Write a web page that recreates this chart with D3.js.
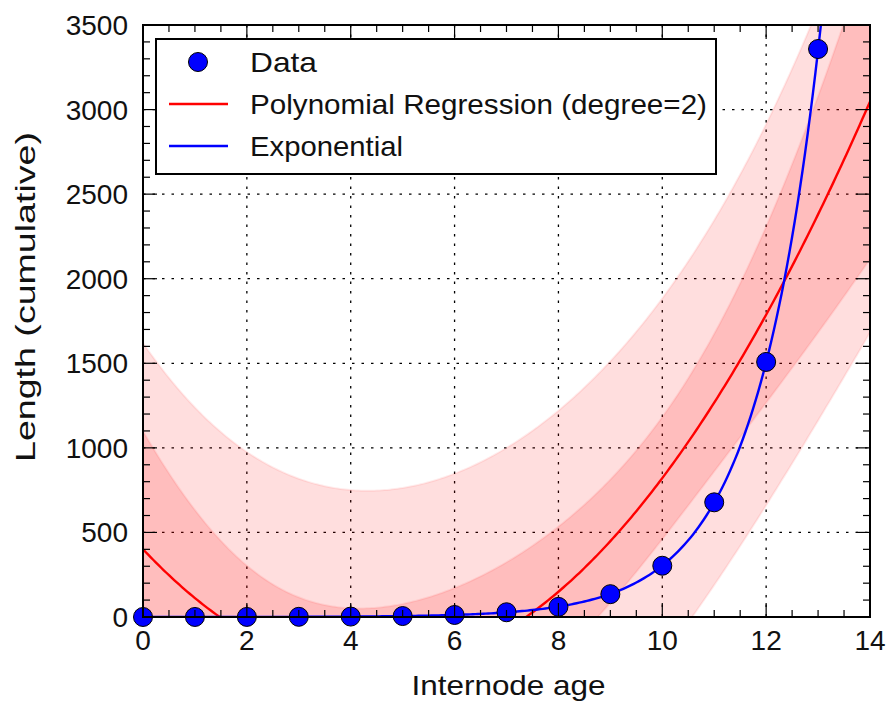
<!DOCTYPE html>
<html>
<head>
<meta charset="utf-8">
<script src="https://cdn.jsdelivr.net/npm/d3@7"></script>
<style>
  body { margin: 0; background: #fff; }
  text { font-family: "Liberation Sans", Arial, sans-serif; fill: #111; }
</style>
</head>
<body>
<svg id="chart" width="888" height="702"></svg>
<script>
// data
const ages = [0, 1, 2, 3, 4, 5, 6, 7, 8, 9, 10, 11, 12, 13];
const lengths = [0.1, 0.2, 0.5, 1.1, 2.5, 5.6, 12, 28, 60, 135, 303, 678, 1508, 3358];
const xTicks = [0, 2, 4, 6, 8, 10, 12, 14];
const yTicks = [0, 500, 1000, 1500, 2000, 2500, 3000, 3500];
const legendLabels = ["Data", "Polynomial Regression (degree=2)", "Exponential"];

// exponential fit y = a * exp(b * x), estimated from the plotted curve
const expA = 0.102, expB = 0.80;
const tCrit = 2.201; // t(0.975, df = 11)

const margin = { left: 143, top: 25, right: 18, bottom: 85 };
const width = 888 - margin.left - margin.right;
const height = 702 - margin.top - margin.bottom;

const svg = d3.select("#chart");
const g = svg.append("g").attr("transform", `translate(${margin.left},${margin.top})`);

const x = d3.scaleLinear().domain([0, 14]).range([0, width]);
const y = d3.scaleLinear().domain([0, 3500]).range([height, 0]);

// quadratic least squares fit, with confidence and prediction bands
function quadFit(xs, ys) {
  const n = xs.length;
  const X = xs.map(v => [1, v, v * v]);
  const XtX = [[0,0,0],[0,0,0],[0,0,0]], Xty = [0,0,0];
  for (let i = 0; i < n; i++) {
    for (let a = 0; a < 3; a++) {
      Xty[a] += X[i][a] * ys[i];
      for (let b = 0; b < 3; b++) XtX[a][b] += X[i][a] * X[i][b];
    }
  }
  const inv = invert3(XtX);
  const beta = [0,1,2].map(a => d3.sum([0,1,2], b => inv[a][b] * Xty[b]));
  const pred = v => beta[0] + beta[1] * v + beta[2] * v * v;
  const sse = d3.sum(xs, (v, i) => (ys[i] - pred(v)) ** 2);
  const s = Math.sqrt(sse / (n - 3));
  const lev = v => {
    const r = [1, v, v * v];
    let h = 0;
    for (let a = 0; a < 3; a++) for (let b = 0; b < 3; b++) h += r[a] * inv[a][b] * r[b];
    return h;
  };
  return { pred, s, lev };
}

function invert3(m) {
  const [a, b, c] = m[0], [d, e, f] = m[1], [gg, h, k] = m[2];
  const A = e * k - f * h, B = -(d * k - f * gg), C = d * h - e * gg;
  const det = a * A + b * B + c * C;
  return [
    [A / det, -(b * k - c * h) / det, (b * f - c * e) / det],
    [B / det, (a * k - c * gg) / det, -(a * f - c * d) / det],
    [C / det, -(a * h - b * gg) / det, (a * e - b * d) / det]
  ];
}

const fit = quadFit(ages, lengths);
const xs = d3.range(0, 14.001, 0.05);
const curve = xs.map(v => {
  const yh = fit.pred(v), h = fit.lev(v);
  return {
    x: v, yh,
    ciLo: yh - tCrit * fit.s * Math.sqrt(h), ciHi: yh + tCrit * fit.s * Math.sqrt(h),
    piLo: yh - tCrit * fit.s * Math.sqrt(1 + h), piHi: yh + tCrit * fit.s * Math.sqrt(1 + h),
    ex: expA * Math.exp(expB * v)
  };
});

svg.append("defs").append("clipPath").attr("id", "clip")
  .append("rect").attr("width", width).attr("height", height);

// grid
const grid = g.append("g");
xTicks.slice(1, -1).forEach(t => grid.append("line")
  .attr("x1", x(t)).attr("x2", x(t)).attr("y1", 0).attr("y2", height));
yTicks.slice(1, -1).forEach(t => grid.append("line")
  .attr("x1", 0).attr("x2", width).attr("y1", y(t)).attr("y2", y(t)));
grid.selectAll("line").attr("stroke", "#000").attr("stroke-width", 1.3)
  .attr("stroke-dasharray", "2.5,7");

const plot = g.append("g").attr("clip-path", "url(#clip)");

const band = (lo, hi) => d3.area().x(d => x(d.x)).y0(d => y(d[lo])).y1(d => y(d[hi]));
plot.append("path").datum(curve).attr("d", band("piLo", "piHi"))
  .attr("fill", "#ff0000").attr("fill-opacity", 0.13)
  .attr("stroke", "#ff0000").attr("stroke-opacity", 0.08).attr("stroke-width", 2);
plot.append("path").datum(curve).attr("d", band("ciLo", "ciHi"))
  .attr("fill", "#ff0000").attr("fill-opacity", 0.15)
  .attr("stroke", "#ff0000").attr("stroke-opacity", 0.08).attr("stroke-width", 2);

plot.append("path").datum(curve)
  .attr("d", d3.line().x(d => x(d.x)).y(d => y(d.yh)))
  .attr("fill", "none").attr("stroke", "#ff0000").attr("stroke-width", 2.4);
plot.append("path").datum(curve)
  .attr("d", d3.line().x(d => x(d.x)).y(d => y(Math.min(d.ex, 4000))))
  .attr("fill", "none").attr("stroke", "#0000ff").attr("stroke-width", 2.4);

// points (not clipped, matplotlib draws them over the axes edge)
g.selectAll("circle.pt").data(ages).join("circle")
  .attr("class", "pt")
  .attr("cx", d => x(d)).attr("cy", (d, i) => y(lengths[i]))
  .attr("r", 9.5).attr("fill", "#0000ff").attr("stroke", "#000").attr("stroke-width", 1);

// ticks on all four sides, pointing inward
const ticks = g.append("g").attr("stroke", "#000").attr("stroke-width", 1.2);
const xMinor = d3.range(0, 14.001, 0.5);
const yMinor = d3.range(0, 3500.1, 100);
xMinor.forEach(t => {
  const len = xTicks.includes(t) ? 14 : 7;
  ticks.append("line").attr("x1", x(t)).attr("x2", x(t)).attr("y1", height).attr("y2", height - len);
  ticks.append("line").attr("x1", x(t)).attr("x2", x(t)).attr("y1", 0).attr("y2", len);
});
yMinor.forEach(t => {
  const len = yTicks.includes(t) ? 14 : 7;
  ticks.append("line").attr("y1", y(t)).attr("y2", y(t)).attr("x1", 0).attr("x2", len);
  ticks.append("line").attr("y1", y(t)).attr("y2", y(t)).attr("x1", width).attr("x2", width - len);
});

// tick labels
g.selectAll("text.xt").data(xTicks).join("text")
  .attr("x", d => x(d)).attr("y", height + 33)
  .attr("text-anchor", "middle").attr("font-size", 28).text(d => d);
g.selectAll("text.yt").data(yTicks).join("text")
  .attr("x", -15).attr("y", d => y(d) + 10)
  .attr("text-anchor", "end").attr("font-size", 28).text(d => d);

// frame
g.append("rect").attr("width", width).attr("height", height)
  .attr("fill", "none").attr("stroke", "#000").attr("stroke-width", 2);

// axis titles
g.append("text").attr("x", width / 2 + 2).attr("y", height + 78)
  .attr("text-anchor", "middle").attr("font-size", 28)
  .attr("textLength", 194).attr("lengthAdjust", "spacingAndGlyphs").text("Internode age");
g.append("text").attr("transform", `translate(${-108},${height / 2 - 24}) rotate(-90)`)
  .attr("text-anchor", "middle").attr("font-size", 27)
  .attr("textLength", 330).attr("lengthAdjust", "spacingAndGlyphs").text("Length (cumulative)");

// legend
const leg = g.append("g").attr("transform", "translate(13,14)");
leg.append("rect").attr("width", 560).attr("height", 135)
  .attr("fill", "#fff").attr("stroke", "#000").attr("stroke-width", 2);
const rowY = [23, 65, 107];
leg.append("circle").attr("cx", 42).attr("cy", rowY[0]).attr("r", 9.5)
  .attr("fill", "#0000ff").attr("stroke", "#000").attr("stroke-width", 1);
leg.append("line").attr("x1", 13).attr("x2", 72).attr("y1", rowY[1]).attr("y2", rowY[1])
  .attr("stroke", "#ff0000").attr("stroke-width", 2.4);
leg.append("line").attr("x1", 13).attr("x2", 72).attr("y1", rowY[2]).attr("y2", rowY[2])
  .attr("stroke", "#0000ff").attr("stroke-width", 2.4);
legendLabels.forEach((t, i) => leg.append("text")
  .attr("x", 94).attr("y", rowY[i] + 10).attr("font-size", 28)
  .attr("textLength", [67, 457, 153][i]).attr("lengthAdjust", "spacingAndGlyphs").text(t));
</script>
</body>
</html>
